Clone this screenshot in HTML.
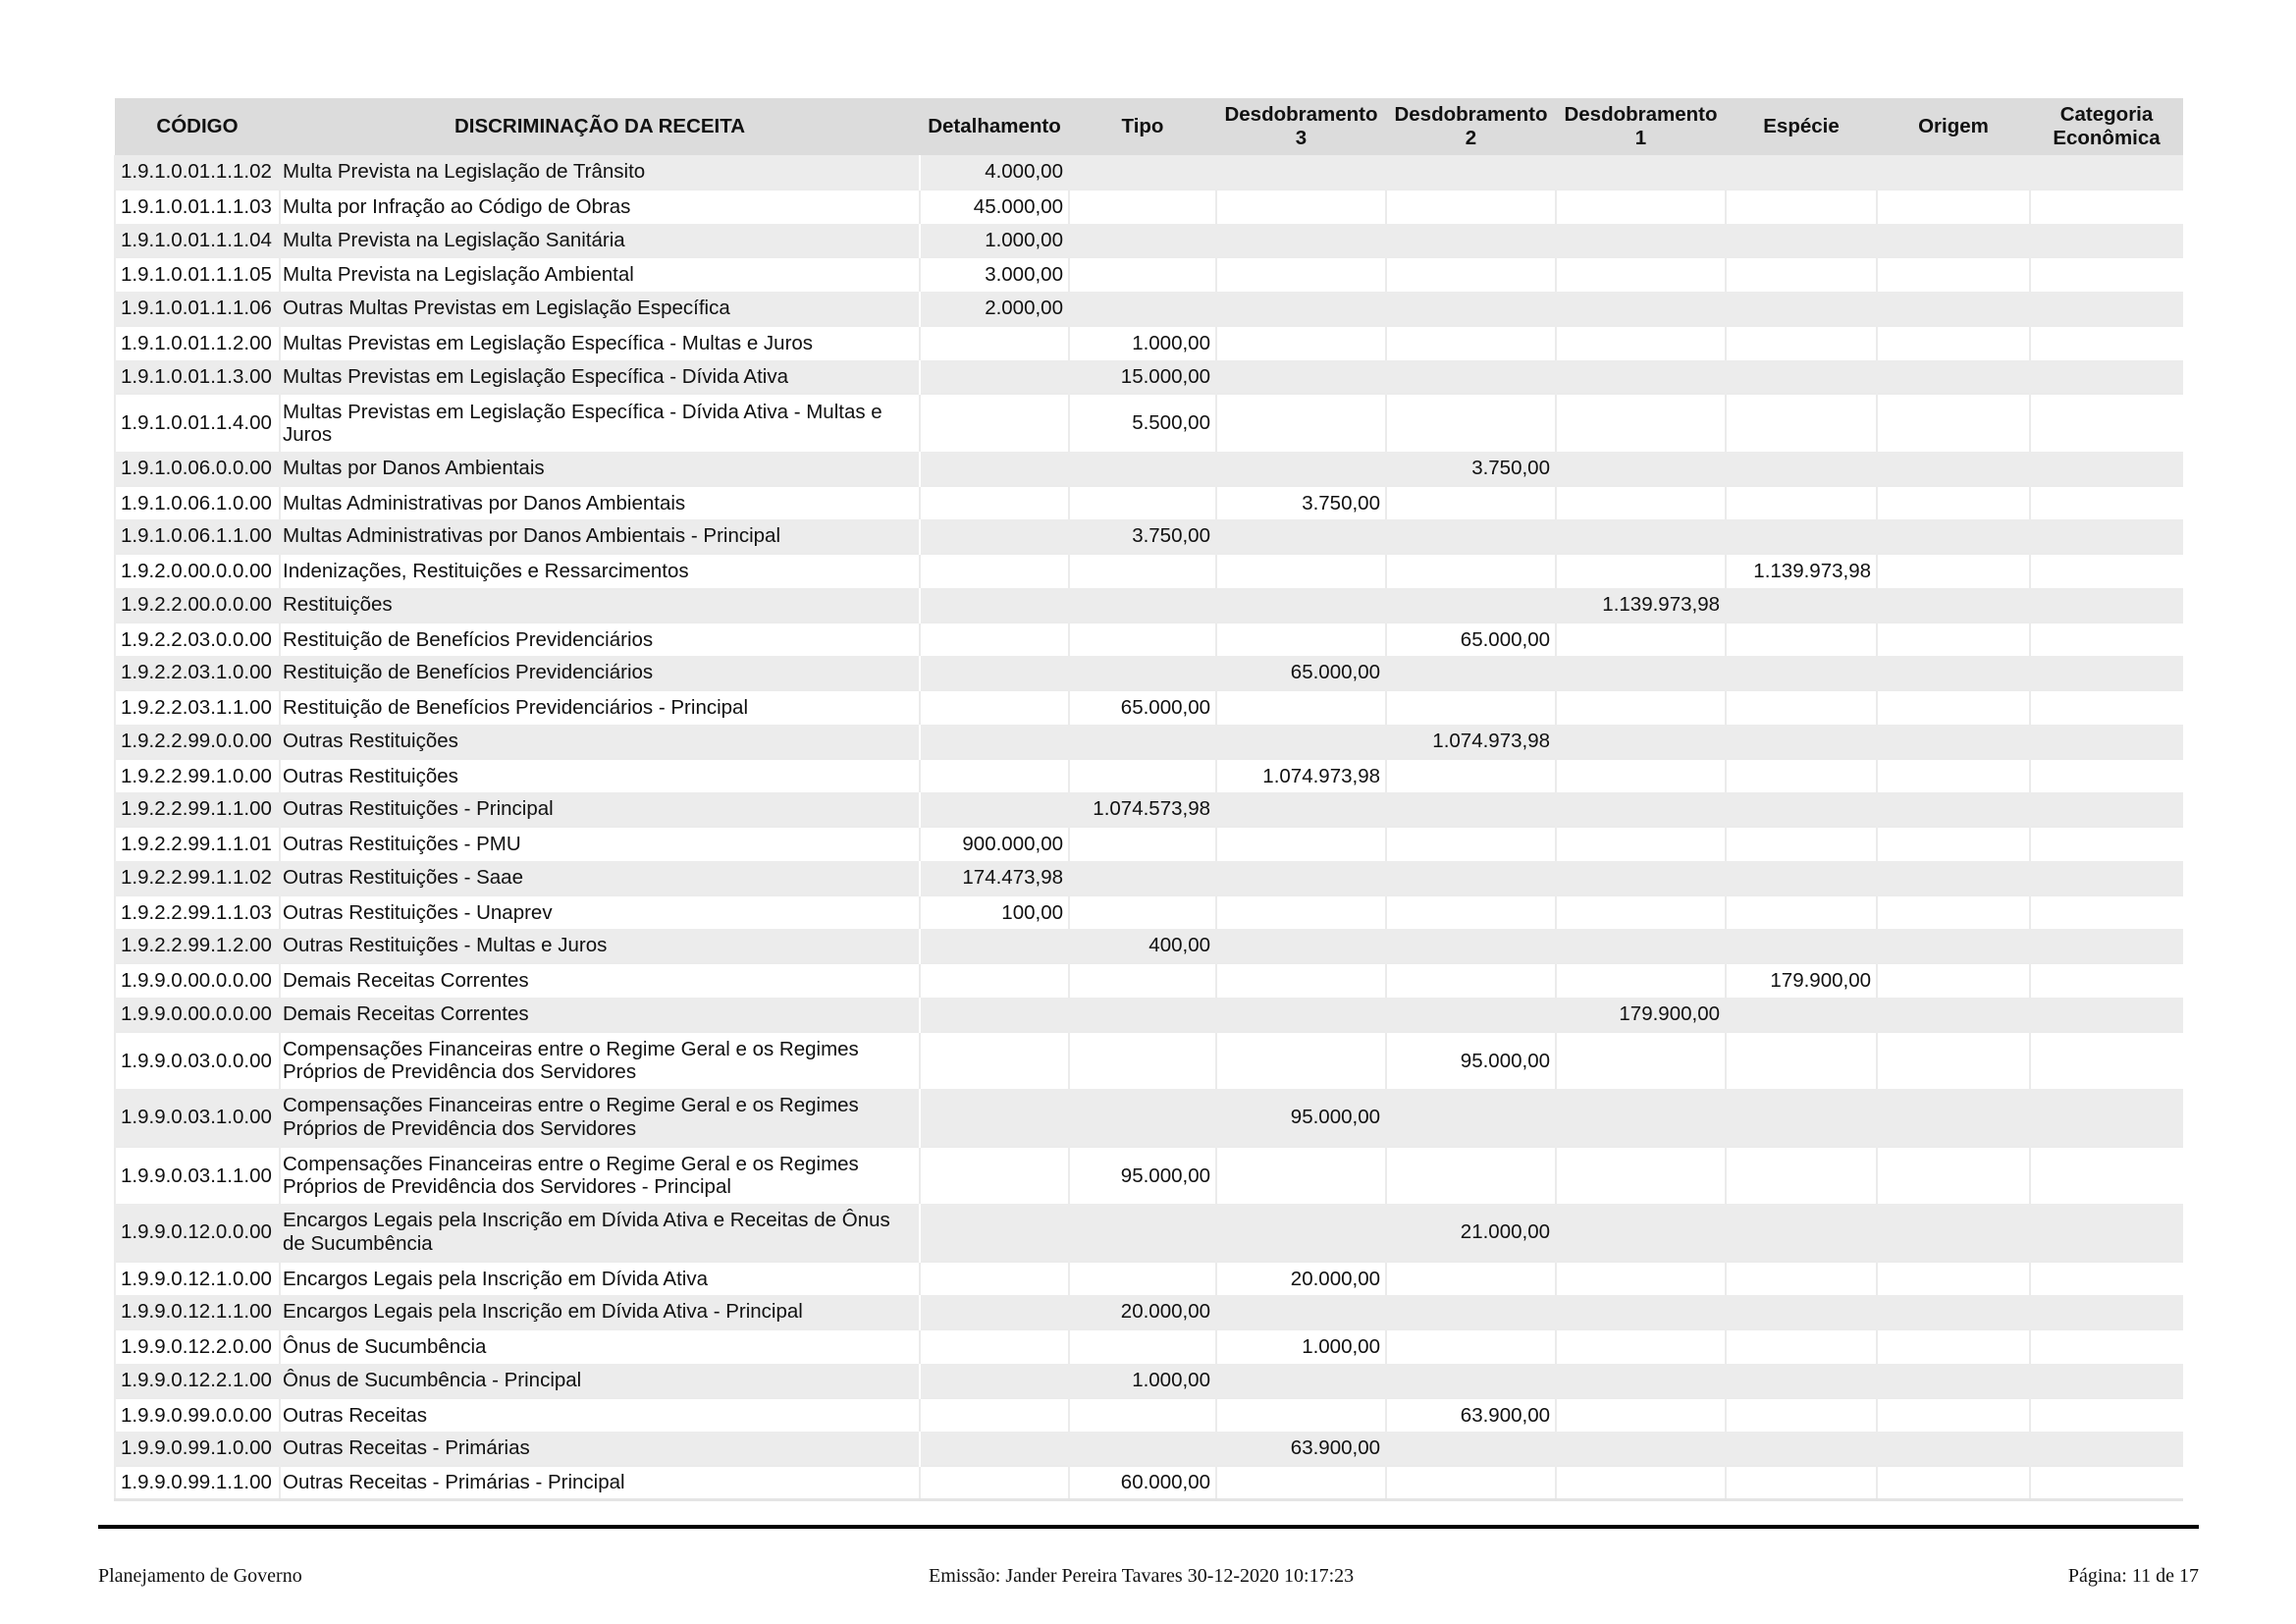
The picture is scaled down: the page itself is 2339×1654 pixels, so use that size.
<!DOCTYPE html>
<html><head><meta charset="utf-8"><style>
body{margin:0;background:#fff;width:2339px;height:1654px;position:relative;overflow:hidden;font-family:"Liberation Sans",Arial,sans-serif;}
table{position:absolute;left:116px;top:100px;border-collapse:collapse;table-layout:fixed;width:2107px;font-size:20.5px;color:#111;}
th{background:#dcdcdc;font-weight:bold;height:58px;padding:0;text-align:center;line-height:24px;font-size:20.5px;}
td{padding:0 5px;line-height:23.5px;white-space:nowrap;overflow:hidden;}
td.n{text-align:right;}
td.d{white-space:normal;padding-left:2px;}
tr.g td{background:#ececec;border-left:2px solid #ececec;}
tr.g td:nth-child(3){border-left:2px solid #fff;}
tr.w td{background:#fff;border-left:2px solid #ebebeb;border-top:2px solid #ebebeb;}
tr.s{height:34.75px;}
tr.D{height:58.5px;}
tr.last td{border-bottom:3px solid #e4e4e4;}
.rule{position:absolute;left:100px;top:1553px;width:2140px;height:4px;background:#000;}
.ft{position:absolute;top:1594px;font-family:"Liberation Serif","Times New Roman",serif;font-size:20px;color:#111;}
</style></head><body>
<table>
<colgroup><col style="width:168px"><col style="width:652px"><col style="width:152px"><col style="width:150px"><col style="width:173px"><col style="width:173px"><col style="width:173px"><col style="width:154px"><col style="width:156px"><col style="width:156px"></colgroup>
<tr><th>CÓDIGO</th><th>DISCRIMINAÇÃO DA RECEITA</th><th>Detalhamento</th><th>Tipo</th><th>Desdobramento<br>3</th><th>Desdobramento<br>2</th><th>Desdobramento<br>1</th><th>Espécie</th><th>Origem</th><th>Categoria<br>Econômica</th></tr>
<tr class="g s"><td>1.9.1.0.01.1.1.02</td><td class="d">Multa Prevista na Legislação de Trânsito</td><td class="n">4.000,00</td><td></td><td></td><td></td><td></td><td></td><td></td><td></td></tr>
<tr class="w s"><td>1.9.1.0.01.1.1.03</td><td class="d">Multa por Infração ao Código de Obras</td><td class="n">45.000,00</td><td></td><td></td><td></td><td></td><td></td><td></td><td></td></tr>
<tr class="g s"><td>1.9.1.0.01.1.1.04</td><td class="d">Multa Prevista na Legislação Sanitária</td><td class="n">1.000,00</td><td></td><td></td><td></td><td></td><td></td><td></td><td></td></tr>
<tr class="w s"><td>1.9.1.0.01.1.1.05</td><td class="d">Multa Prevista na Legislação Ambiental</td><td class="n">3.000,00</td><td></td><td></td><td></td><td></td><td></td><td></td><td></td></tr>
<tr class="g s"><td>1.9.1.0.01.1.1.06</td><td class="d">Outras Multas Previstas em Legislação Específica</td><td class="n">2.000,00</td><td></td><td></td><td></td><td></td><td></td><td></td><td></td></tr>
<tr class="w s"><td>1.9.1.0.01.1.2.00</td><td class="d">Multas Previstas em Legislação Específica - Multas e Juros</td><td></td><td class="n">1.000,00</td><td></td><td></td><td></td><td></td><td></td><td></td></tr>
<tr class="g s"><td>1.9.1.0.01.1.3.00</td><td class="d">Multas Previstas em Legislação Específica - Dívida Ativa</td><td></td><td class="n">15.000,00</td><td></td><td></td><td></td><td></td><td></td><td></td></tr>
<tr class="w D"><td>1.9.1.0.01.1.4.00</td><td class="d">Multas Previstas em Legislação Específica - Dívida Ativa - Multas e Juros</td><td></td><td class="n">5.500,00</td><td></td><td></td><td></td><td></td><td></td><td></td></tr>
<tr class="g s"><td>1.9.1.0.06.0.0.00</td><td class="d">Multas por Danos Ambientais</td><td></td><td></td><td></td><td class="n">3.750,00</td><td></td><td></td><td></td><td></td></tr>
<tr class="w s"><td>1.9.1.0.06.1.0.00</td><td class="d">Multas Administrativas por Danos Ambientais</td><td></td><td></td><td class="n">3.750,00</td><td></td><td></td><td></td><td></td><td></td></tr>
<tr class="g s"><td>1.9.1.0.06.1.1.00</td><td class="d">Multas Administrativas por Danos Ambientais - Principal</td><td></td><td class="n">3.750,00</td><td></td><td></td><td></td><td></td><td></td><td></td></tr>
<tr class="w s"><td>1.9.2.0.00.0.0.00</td><td class="d">Indenizações, Restituições e Ressarcimentos</td><td></td><td></td><td></td><td></td><td></td><td class="n">1.139.973,98</td><td></td><td></td></tr>
<tr class="g s"><td>1.9.2.2.00.0.0.00</td><td class="d">Restituições</td><td></td><td></td><td></td><td></td><td class="n">1.139.973,98</td><td></td><td></td><td></td></tr>
<tr class="w s"><td>1.9.2.2.03.0.0.00</td><td class="d">Restituição de Benefícios Previdenciários</td><td></td><td></td><td></td><td class="n">65.000,00</td><td></td><td></td><td></td><td></td></tr>
<tr class="g s"><td>1.9.2.2.03.1.0.00</td><td class="d">Restituição de Benefícios Previdenciários</td><td></td><td></td><td class="n">65.000,00</td><td></td><td></td><td></td><td></td><td></td></tr>
<tr class="w s"><td>1.9.2.2.03.1.1.00</td><td class="d">Restituição de Benefícios Previdenciários - Principal</td><td></td><td class="n">65.000,00</td><td></td><td></td><td></td><td></td><td></td><td></td></tr>
<tr class="g s"><td>1.9.2.2.99.0.0.00</td><td class="d">Outras Restituições</td><td></td><td></td><td></td><td class="n">1.074.973,98</td><td></td><td></td><td></td><td></td></tr>
<tr class="w s"><td>1.9.2.2.99.1.0.00</td><td class="d">Outras Restituições</td><td></td><td></td><td class="n">1.074.973,98</td><td></td><td></td><td></td><td></td><td></td></tr>
<tr class="g s"><td>1.9.2.2.99.1.1.00</td><td class="d">Outras Restituições - Principal</td><td></td><td class="n">1.074.573,98</td><td></td><td></td><td></td><td></td><td></td><td></td></tr>
<tr class="w s"><td>1.9.2.2.99.1.1.01</td><td class="d">Outras Restituições - PMU</td><td class="n">900.000,00</td><td></td><td></td><td></td><td></td><td></td><td></td><td></td></tr>
<tr class="g s"><td>1.9.2.2.99.1.1.02</td><td class="d">Outras Restituições - Saae</td><td class="n">174.473,98</td><td></td><td></td><td></td><td></td><td></td><td></td><td></td></tr>
<tr class="w s"><td>1.9.2.2.99.1.1.03</td><td class="d">Outras Restituições - Unaprev</td><td class="n">100,00</td><td></td><td></td><td></td><td></td><td></td><td></td><td></td></tr>
<tr class="g s"><td>1.9.2.2.99.1.2.00</td><td class="d">Outras Restituições - Multas e Juros</td><td></td><td class="n">400,00</td><td></td><td></td><td></td><td></td><td></td><td></td></tr>
<tr class="w s"><td>1.9.9.0.00.0.0.00</td><td class="d">Demais Receitas Correntes</td><td></td><td></td><td></td><td></td><td></td><td class="n">179.900,00</td><td></td><td></td></tr>
<tr class="g s"><td>1.9.9.0.00.0.0.00</td><td class="d">Demais Receitas Correntes</td><td></td><td></td><td></td><td></td><td class="n">179.900,00</td><td></td><td></td><td></td></tr>
<tr class="w D"><td>1.9.9.0.03.0.0.00</td><td class="d">Compensações Financeiras entre o Regime Geral e os Regimes Próprios de Previdência dos Servidores</td><td></td><td></td><td></td><td class="n">95.000,00</td><td></td><td></td><td></td><td></td></tr>
<tr class="g D"><td>1.9.9.0.03.1.0.00</td><td class="d">Compensações Financeiras entre o Regime Geral e os Regimes Próprios de Previdência dos Servidores</td><td></td><td></td><td class="n">95.000,00</td><td></td><td></td><td></td><td></td><td></td></tr>
<tr class="w D"><td>1.9.9.0.03.1.1.00</td><td class="d">Compensações Financeiras entre o Regime Geral e os Regimes Próprios de Previdência dos Servidores - Principal</td><td></td><td class="n">95.000,00</td><td></td><td></td><td></td><td></td><td></td><td></td></tr>
<tr class="g D"><td>1.9.9.0.12.0.0.00</td><td class="d">Encargos Legais pela Inscrição em Dívida Ativa e Receitas de Ônus de Sucumbência</td><td></td><td></td><td></td><td class="n">21.000,00</td><td></td><td></td><td></td><td></td></tr>
<tr class="w s"><td>1.9.9.0.12.1.0.00</td><td class="d">Encargos Legais pela Inscrição em Dívida Ativa</td><td></td><td></td><td class="n">20.000,00</td><td></td><td></td><td></td><td></td><td></td></tr>
<tr class="g s"><td>1.9.9.0.12.1.1.00</td><td class="d">Encargos Legais pela Inscrição em Dívida Ativa - Principal</td><td></td><td class="n">20.000,00</td><td></td><td></td><td></td><td></td><td></td><td></td></tr>
<tr class="w s"><td>1.9.9.0.12.2.0.00</td><td class="d">Ônus de Sucumbência</td><td></td><td></td><td class="n">1.000,00</td><td></td><td></td><td></td><td></td><td></td></tr>
<tr class="g s"><td>1.9.9.0.12.2.1.00</td><td class="d">Ônus de Sucumbência - Principal</td><td></td><td class="n">1.000,00</td><td></td><td></td><td></td><td></td><td></td><td></td></tr>
<tr class="w s"><td>1.9.9.0.99.0.0.00</td><td class="d">Outras Receitas</td><td></td><td></td><td></td><td class="n">63.900,00</td><td></td><td></td><td></td><td></td></tr>
<tr class="g s"><td>1.9.9.0.99.1.0.00</td><td class="d">Outras Receitas - Primárias</td><td></td><td></td><td class="n">63.900,00</td><td></td><td></td><td></td><td></td><td></td></tr>
<tr class="w s last"><td>1.9.9.0.99.1.1.00</td><td class="d">Outras Receitas - Primárias - Principal</td><td></td><td class="n">60.000,00</td><td></td><td></td><td></td><td></td><td></td><td></td></tr>
</table>
<div class="rule"></div>
<div class="ft" style="left:100px">Planejamento de Governo</div>
<div class="ft" style="left:946px">Emissão: Jander Pereira Tavares 30-12-2020 10:17:23</div>
<div class="ft" style="right:99px">Página: 11 de 17</div>
</body></html>
